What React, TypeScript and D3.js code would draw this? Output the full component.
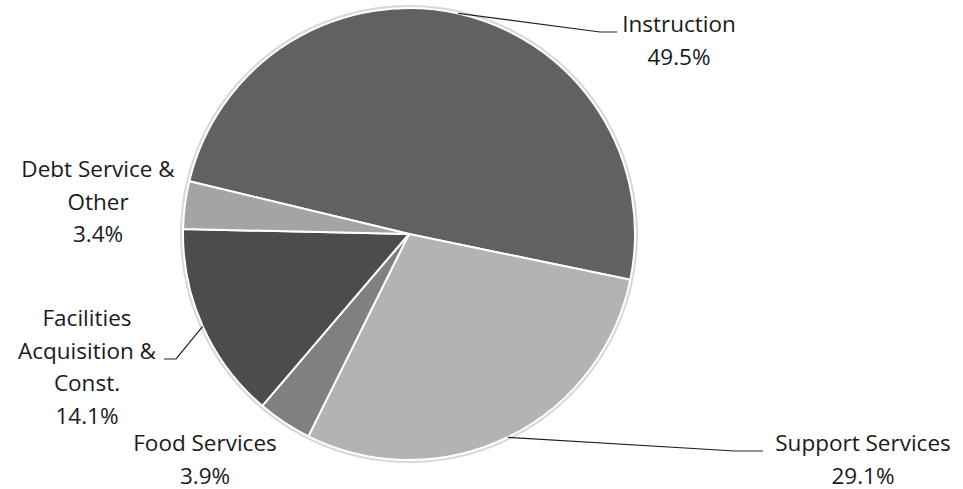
import React from "react";
import * as d3 from "d3";

const categories = ["Instruction", "Support Services", "Food Services", "Facilities Acquisition & Const.", "Debt Service & Other"];
const values = [49.5, 29.1, 3.9, 14.1, 3.4];
const labelLines = [
  ["Instruction", "49.5%"],
  ["Support Services", "29.1%"],
  ["Food Services", "3.9%"],
  ["Facilities", "Acquisition &", "Const.", "14.1%"],
  ["Debt Service &", "Other", "3.4%"],
];
const colors = ["#616161", "#b3b3b3", "#808080", "#4c4c4c", "#a4a4a4"];

// layout (not data)
const W = 963, H = 489;
const CX = 409, CY = 234, R = 226;
const START = (-76.5 * Math.PI) / 180;
const labelLayout = [
  { x: 679, y: 32, leader: [[600, 32], [617, 32]] },
  { x: 863, y: 451, leader: [[735, 451], [763, 451]] },
  { x: 205, y: 451, leader: null },
  { x: 87, y: 326, leader: [[176, 359], [164, 359]] },
  { x: 98, y: 177, leader: null },
];
const LINE_H = 32.5;

export default function App() {
  const pie = d3.pie<number>().sort(null).startAngle(START).endAngle(START + 2 * Math.PI);
  const arcs = pie(values);
  const arc = d3.arc<d3.PieArcDatum<number>>().innerRadius(0).outerRadius(R);
  return (
    <svg width={W} height={H} style={{ position: "absolute", left: 0, top: 0, background: "#fff" }}
      fontFamily="'Open Sans', sans-serif">
      <circle cx={CX} cy={CY} r={R + 1.5} fill="none" stroke="#d8d8d8" strokeWidth={3} />
      <g transform={`translate(${CX},${CY})`}>
        {arcs.map((a, i) => (
          <path key={categories[i]} d={arc(a) || ""} fill={colors[i]} stroke="#fff" strokeWidth={2} strokeLinejoin="round" />
        ))}
      </g>
      {arcs.map((a, i) => {
        const L = labelLayout[i];
        if (!L.leader) return null;
        const mid = (a.startAngle + a.endAngle) / 2;
        const sx = CX + R * Math.sin(mid);
        const sy = CY - R * Math.cos(mid);
        const pts = [[sx, sy], ...L.leader];
        return (
          <polyline key={"l" + i} points={pts.map((p) => p.join(",")).join(" ")} fill="none" stroke="#222" strokeWidth={1.2} />
        );
      })}
      {labelLines.map((lines, i) => (
        <text key={"t" + i} x={labelLayout[i].x} y={labelLayout[i].y} textAnchor="middle" fontSize={22.5} fill="#1a1a1a">
          {lines.map((ln, j) => (
            <tspan key={j} x={labelLayout[i].x} y={labelLayout[i].y + j * LINE_H}>{ln}</tspan>
          ))}
        </text>
      ))}
    </svg>
  );
}
